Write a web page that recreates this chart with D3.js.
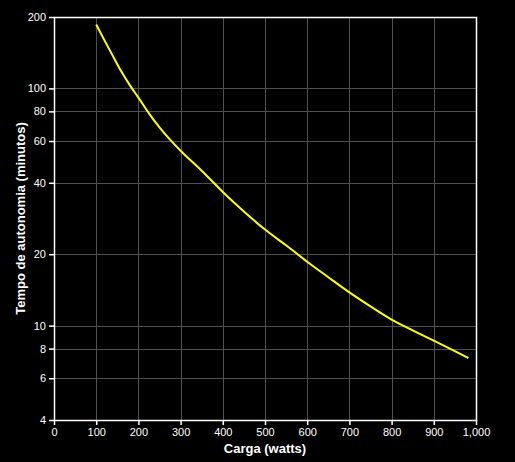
<!DOCTYPE html>
<html>
<head>
<meta charset="utf-8">
<script src="https://cdn.jsdelivr.net/npm/d3@7"></script>
<style>
    html, body { margin: 0; padding: 0; background: #000; }
    #chart { width: 515px; height: 462px; }
    text { font-family: "Liberation Sans", Arial, sans-serif; fill: #fff; }
    .axis text { font-size: 11px; }
    .grid line { stroke: #505050; stroke-width: 1; }
</style>
</head>
<body>
<div id="chart"></div>
<script>
// Load (watts) and runtime (minutes)
var loads = [100, 120, 140, 160, 180, 200, 225, 250, 275, 300, 350, 400, 450, 500, 550, 600, 650, 700, 750, 800, 850, 900, 950, 982];
var minutes = [186, 159, 136.5, 117.5, 103, 91.4, 78.5, 68.5, 60.8, 54.6, 45, 36.6, 30.3, 25.4, 21.8, 18.6, 16.0, 13.8, 12.05, 10.6, 9.55, 8.64, 7.8, 7.3];

var xTicks = [0, 100, 200, 300, 400, 500, 600, 700, 800, 900, 1000];
var yTicks = [4, 6, 8, 10, 20, 40, 60, 80, 100, 200];

var xlabel = 'Carga (watts)';
var ylabel = 'Tempo de autonomia (minutos)';

// Graph container
var margin = {top: 17, right: 39, bottom: 42, left: 54};
var chart_width = 515, chart_height = 462;
var width = chart_width - margin.left - margin.right;
var height = chart_height - margin.top - margin.bottom;

var x = d3.scaleLinear().domain([0, 1000]).range([0, width]);
var y = d3.scaleLog().domain([4, 200]).range([height, 0]);

var svg = d3.select('#chart').append('svg')
    .attr('width', chart_width)
    .attr('height', chart_height)
    .append('g')
    .attr('transform', 'translate(' + margin.left + ',' + margin.top + ')');

// Gridlines
var grid = svg.append('g').attr('class', 'grid');
grid.selectAll('.vx')
    .data(xTicks.slice(1, -1))
    .enter().append('line')
    .attr('x1', function(d) { return Math.round(x(d)) + 0.5; })
    .attr('x2', function(d) { return Math.round(x(d)) + 0.5; })
    .attr('y1', 0)
    .attr('y2', height);
grid.selectAll('.hy')
    .data(yTicks.slice(1, -1))
    .enter().append('line')
    .attr('y1', function(d) { return Math.round(y(d)) + 0.5; })
    .attr('y2', function(d) { return Math.round(y(d)) + 0.5; })
    .attr('x1', 0)
    .attr('x2', width);

// Frame
svg.append('rect')
    .attr('x', 0.5)
    .attr('y', 0.5)
    .attr('width', width)
    .attr('height', height)
    .attr('fill', 'none')
    .attr('stroke', '#fff')
    .attr('stroke-width', 1.5);

// Axes
var xAxis = d3.axisBottom(x)
    .tickValues(xTicks)
    .tickSize(5)
    .tickPadding(3)
    .tickFormat(d3.format(','));
var yAxis = d3.axisLeft(y)
    .tickValues(yTicks)
    .tickSize(5)
    .tickPadding(3)
    .tickFormat(d3.format('d'));

svg.append('g')
    .attr('class', 'x axis')
    .attr('transform', 'translate(0,' + height + ')')
    .call(xAxis);
svg.append('g')
    .attr('class', 'y axis')
    .call(yAxis);

svg.selectAll('.axis path').remove();
svg.selectAll('.axis line').attr('stroke', '#fff').attr('stroke-width', 1.5);

// Curve
var line = d3.line()
    .x(function(d, i) { return x(loads[i]); })
    .y(function(d) { return y(d); })
    .curve(d3.curveMonotoneX);

svg.append('path')
    .datum(minutes)
    .attr('d', line)
    .attr('fill', 'none')
    .attr('stroke', '#ffff00')
    .attr('stroke-width', 2);

// Axis labels
svg.append('text')
    .attr('x', width / 2)
    .attr('y', height + 33)
    .style('text-anchor', 'middle')
    .style('font-size', '13px')
    .style('font-weight', 'bold')
    .text(xlabel);

svg.append('text')
    .attr('transform', 'rotate(-90)')
    .attr('x', -height / 2)
    .attr('y', -29)
    .style('text-anchor', 'middle')
    .style('font-size', '13px')
    .style('font-weight', 'bold')
    .text(ylabel);
</script>
</body>
</html>
